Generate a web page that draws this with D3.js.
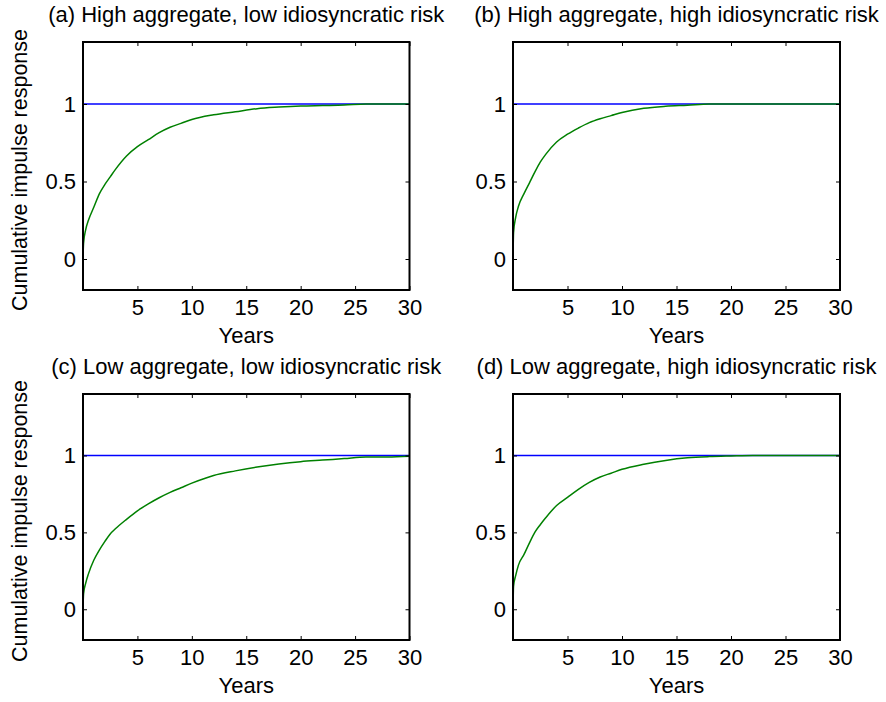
<!DOCTYPE html>
<html>
<head>
<meta charset="utf-8">
<script src="https://cdn.jsdelivr.net/npm/d3@7"></script>
<style>
  body { margin: 0; background: #fff; }
  svg text { font-family: "Liberation Sans", Arial, sans-serif; fill: #000; }
</style>
</head>
<body>
<div id="chartHolder"></div>
<script>
const years = [0, 0.05, 0.25, 0.5, 1, 1.5, 2, 2.5, 3, 4, 5, 6, 7, 8, 9, 10, 12, 14, 16, 18, 20, 22, 24, 26, 28, 30];

const titles = [
  "(a) High aggregate, low idiosyncratic risk",
  "(b) High aggregate, high idiosyncratic risk",
  "(c) Low aggregate, low idiosyncratic risk",
  "(d) Low aggregate, high idiosyncratic risk"
];

// green curves: cumulative impulse response
const respA = [0, 0.10, 0.19, 0.25, 0.335, 0.42, 0.48, 0.53, 0.58, 0.665, 0.725, 0.77, 0.815, 0.85, 0.875, 0.90, 0.93, 0.95, 0.97, 0.98, 0.987, 0.99, 0.993, 1.0, 1.0, 1.0];
const respB = [0, 0.17, 0.27, 0.34, 0.42, 0.49, 0.56, 0.625, 0.675, 0.755, 0.805, 0.845, 0.88, 0.905, 0.925, 0.945, 0.972, 0.985, 0.992, 1.0, 1.0, 1.0, 1.0, 1.0, 1.0, 1.0];
const respC = [0, 0.10, 0.17, 0.23, 0.32, 0.385, 0.44, 0.49, 0.525, 0.585, 0.64, 0.685, 0.725, 0.76, 0.79, 0.82, 0.87, 0.90, 0.925, 0.945, 0.96, 0.97, 0.98, 0.99, 0.99, 0.995];
const respD = [0, 0.15, 0.22, 0.287, 0.355, 0.43, 0.50, 0.55, 0.595, 0.675, 0.728, 0.78, 0.825, 0.86, 0.885, 0.91, 0.943, 0.968, 0.985, 0.993, 0.997, 1.0, 1.0, 1.0, 1.0, 1.0];

// blue reference line (full response)
const refYears = [0, 30];
const refLevel = [1, 1];

const xTicks = [5, 10, 15, 20, 25, 30];
const yTicks = [0, 0.5, 1];

const w = 886, h = 702;
const svg = d3.select("#chartHolder").append("svg")
  .attr("width", w)
  .attr("height", h);

// panel boxes [left, top, right, bottom]
const boxes = [
  [83, 42, 409.5, 290],
  [513, 42, 840, 290],
  [83, 394, 409.5, 640],
  [513, 394, 840, 640]
];
const responses = [respA, respB, respC, respD];

boxes.forEach((b, i) => {
  const x = d3.scaleLinear().domain([0, 30]).range([b[0], b[2]]);
  const y = d3.scaleLinear().domain([-0.2, 1.4]).range([b[3], b[1]]);
  const g = svg.append("g");

  const line = d3.line()
    .x(d => x(d[0]))
    .y(d => y(d[1]));

  // blue first, green drawn over it
  g.append("path")
    .datum(refYears.map((t, k) => [t, refLevel[k]]))
    .attr("d", line)
    .attr("fill", "none")
    .attr("stroke", "#0000ff")
    .attr("stroke-width", 1.5);

  g.append("path")
    .datum(years.map((t, k) => [t, responses[i][k]]))
    .attr("d", line.curve(d3.curveMonotoneX))
    .attr("fill", "none")
    .attr("stroke", "#008000")
    .attr("stroke-width", 1.5);

  // ticks pointing inward on all four sides
  const tickStyle = sel => {
    sel.select(".domain").remove();
    sel.selectAll(".tick line").attr("stroke", "#000").attr("stroke-width", 1);
    sel.selectAll(".tick text").style("font-size", "22px")
      .style("font-family", "'Liberation Sans', Arial, sans-serif");
  };

  g.append("g")
    .attr("transform", `translate(0,${b[3]})`)
    .call(d3.axisBottom(x).tickValues(xTicks).tickFormat(d3.format("d"))
      .tickSizeInner(-4).tickSizeOuter(0).tickPadding(9))
    .call(tickStyle);
  g.append("g")
    .attr("transform", `translate(0,${b[1]})`)
    .call(d3.axisTop(x).tickValues(xTicks).tickFormat("")
      .tickSizeInner(-4).tickSizeOuter(0))
    .call(tickStyle);
  g.append("g")
    .attr("transform", `translate(${b[0]},0)`)
    .call(d3.axisLeft(y).tickValues(yTicks).tickFormat(d => d === 0.5 ? "0.5" : d3.format("d")(d))
      .tickSizeInner(-4).tickSizeOuter(0).tickPadding(7))
    .call(tickStyle);
  g.append("g")
    .attr("transform", `translate(${b[2]},0)`)
    .call(d3.axisRight(y).tickValues(yTicks).tickFormat("")
      .tickSizeInner(-4).tickSizeOuter(0))
    .call(tickStyle);

  // frame
  g.append("rect")
    .attr("x", b[0]).attr("y", b[1])
    .attr("width", b[2] - b[0]).attr("height", b[3] - b[1])
    .attr("fill", "none")
    .attr("stroke", "#000")
    .attr("stroke-width", 2);

  g.append("text")
    .attr("x", (b[0] + b[2]) / 2)
    .attr("y", b[1] - 20)
    .attr("text-anchor", "middle")
    .style("font-size", "22px")
    .text(titles[i]);

  g.append("text")
    .attr("x", (b[0] + b[2]) / 2)
    .attr("y", b[3] + 53)
    .attr("text-anchor", "middle")
    .style("font-size", "22px")
    .text("Years");

  if (i % 2 === 0) {
    g.append("text")
      .attr("transform", `translate(27,${(b[1] + b[3]) / 2 + 4}) rotate(-90)`)
      .attr("text-anchor", "middle")
      .style("font-size", "21.5px")
      .text("Cumulative impulse response");
  }
});
</script>
</body>
</html>
